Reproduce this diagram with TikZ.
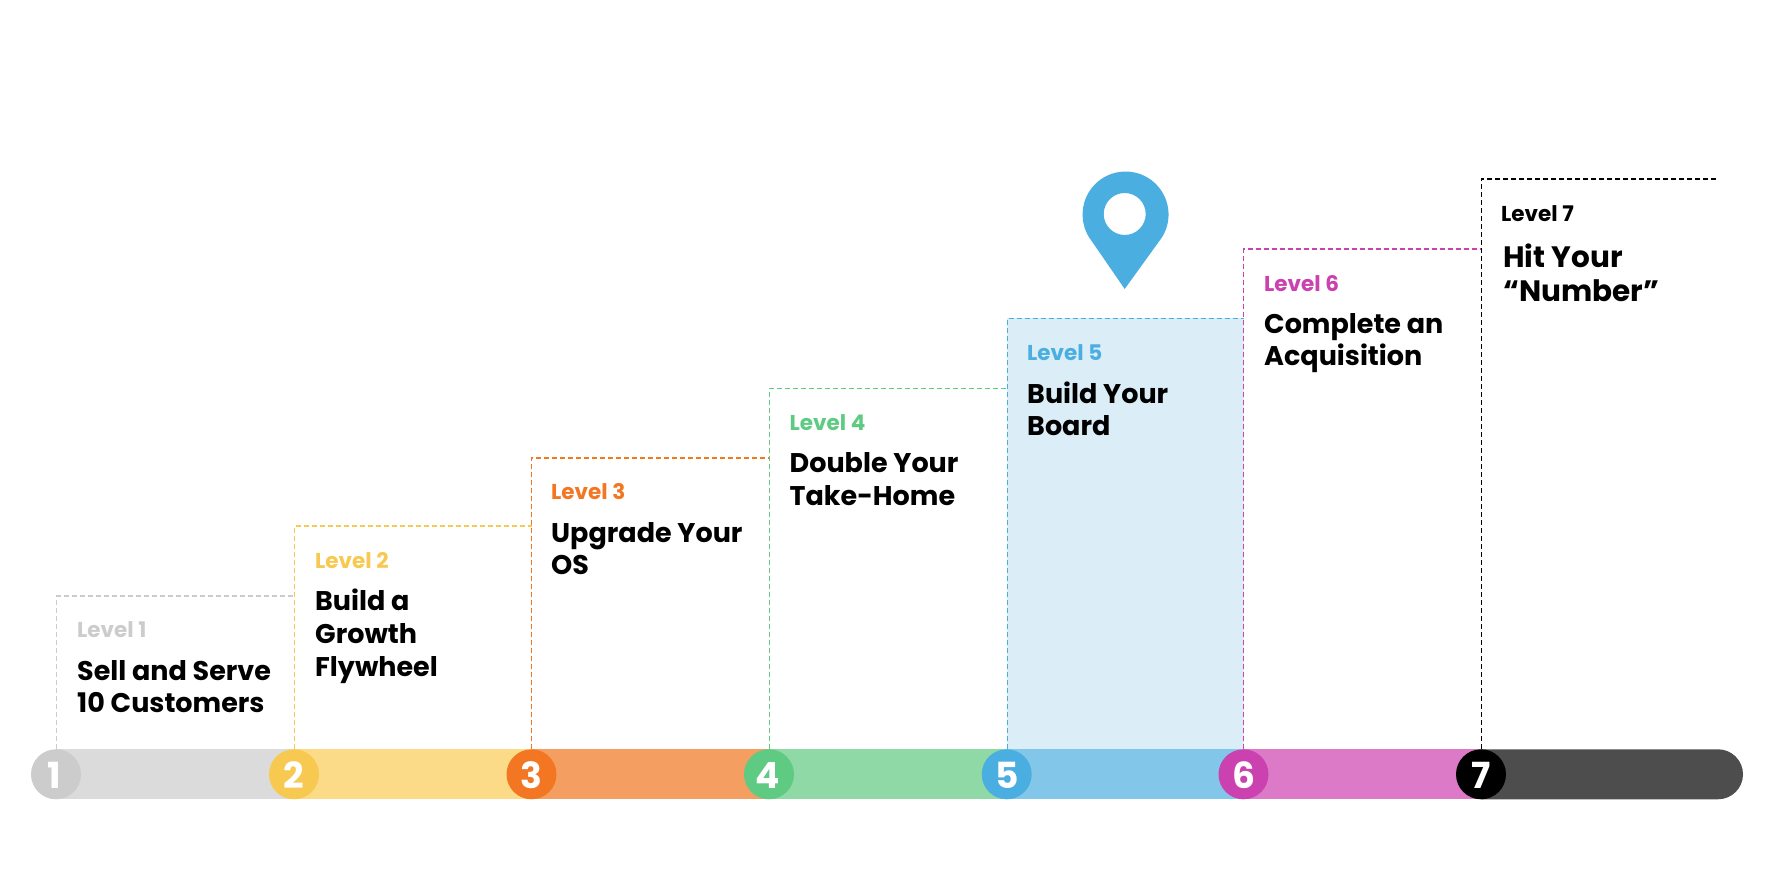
\documentclass[tikz,border=0pt]{standalone}
\usepackage{fontspec}
\setmainfont{Poppins}
\definecolor{c1}{HTML}{CCCCCC}\definecolor{b1}{HTML}{DBDBDB}
\definecolor{c2}{HTML}{F7C950}\definecolor{b2}{HTML}{FBDB88}
\definecolor{c3}{HTML}{F37722}\definecolor{b3}{HTML}{F59E62}
\definecolor{c4}{HTML}{5FCB82}\definecolor{b4}{HTML}{8FD9A6}
\definecolor{c5}{HTML}{4BAEE0}\definecolor{b5}{HTML}{82C7E9}
\definecolor{c6}{HTML}{CB41AF}\definecolor{b6}{HTML}{DC7AC8}
\definecolor{c7}{HTML}{000000}\definecolor{b7}{HTML}{4D4D4D}
\definecolor{panel}{HTML}{DBEEF8}
\tikzset{
  badge/.style={circle,minimum size=50pt,inner sep=0pt,text=white,text height=29pt,text depth=0pt,font=\fontsize{36}{36}\selectfont\bfseries},
  lvlline/.style={line width=1.2pt,dash pattern=on 5pt off 3pt},
  lvllabel/.style={anchor=base west,inner sep=0pt,font=\fontsize{21.5}{24}\selectfont\bfseries},
  lvltitle/.style={anchor=north west,inner sep=0pt,align=left,text=black,font=\fontsize{27}{32.6}\selectfont\bfseries},
  lvltitlebig/.style={lvltitle,font=\fontsize{29.5}{34}\selectfont\bfseries},
}
\begin{document}
\begin{tikzpicture}[x=1pt,y=1pt]
\useasboundingbox (0,0) rectangle (1775,894);
\fill[white] (0,0) rectangle (1775,894);
% panel
\fill[panel] (1007,144.7) rectangle (1243.5,575.7);
% bar
\fill[b1] (56,94.7) rectangle (294.5,144.7);
\fill[b2] (294.5,94.7) rectangle (531.5,144.7);
\fill[b3] (531.5,94.7) rectangle (769,144.7);
\fill[b4] (769,94.7) rectangle (1006.7,144.7);
\fill[b5] (1006.7,94.7) rectangle (1243.5,144.7);
\fill[b6] (1243.5,94.7) rectangle (1481,144.7);
\fill[b7] (1481,94.7) -- (1718,94.7) arc[start angle=-90,end angle=90,radius=25pt] -- (1481,144.7) -- cycle;
% badges
\node[badge,fill=c1] (n1) at (56,119.7) {\hspace*{-3pt}1};
\node[badge,fill=c2] (n2) at (294,119.7) {2};
\node[badge,fill=c3] (n3) at (531.5,119.7) {3};
\node[badge,fill=c4] (n4) at (769,119.7) {\hspace*{-2pt}4};
\node[badge,fill=c5] (n5) at (1006.7,119.7) {5};
\node[badge,fill=c6] (n6) at (1243.5,119.7) {6};
\node[badge,fill=c7] (n7) at (1481,119.7) {7};
% corners
\coordinate (t1) at (295,298);
\coordinate (t2) at (531.5,368);
\coordinate (t3) at (769.3,436);
\coordinate (t4) at (1007.3,505.7);
\coordinate (t5) at (1243.7,575.7);
\coordinate (t6) at (1481.5,645);
\coordinate (t7) at (1718,715);
\draw[lvlline,c1] ([xshift=.7pt]n1.north) |- (t1);
\draw[lvlline,c2] ([xshift=.6pt]n2.north) |- (t2);
\draw[lvlline,c3] (n3.north) |- (t3);
\draw[lvlline,c4] ([xshift=.3pt]n4.north) |- (t4);
\draw[lvlline,c5] ([xshift=.6pt]n5.north) |- (t5);
\draw[lvlline,c6] ([xshift=.2pt]n6.north) |- (t6);
\draw[lvlline,c7] ([xshift=.5pt]n7.north) |- (t7);
% pin
\fill[c5,even odd rule] (1124.7,605) -- (1162.2,657) arc[start angle=-31.5,end angle=211.5,radius=43pt] -- cycle
  (1124.7,680) circle[radius=21pt];
% labels
\node[lvllabel,text=c1] (l1) at (77,256) {Level 1};
\node[lvltitle] (h1) at (77,234) {Sell and Serve\\10 Customers};
\node[lvllabel,text=c2] (l2) at (315,325.5) {Level 2};
\node[lvltitle] (h2) at (315,305) {Build a\\Growth\\Flywheel};
\node[lvllabel,text=c3] (l3) at (551,394) {Level 3};
\node[lvltitle] (h3) at (551,372) {Upgrade Your\\OS};
\node[lvllabel,text=c4] (l4) at (789.5,463.5) {Level 4};
\node[lvltitle] (h4) at (789.5,441.5) {Double Your\\Take-Home};
\node[lvllabel,text=c5] (l5) at (1027,533) {Level 5};
\node[lvltitle] (h5) at (1027,512.5) {Build Your\\Board};
\node[lvllabel,text=c6] (l6) at (1264,602.5) {Level 6};
\node[lvltitle] (h6) at (1264,581) {Complete an\\Acquisition};
\node[lvllabel,text=c7] (l7) at (1501,672.5) {Level 7};
\node[lvltitlebig] (h7) at (1503,650) {Hit Your\\“Number”};
\end{tikzpicture}
\end{document}
